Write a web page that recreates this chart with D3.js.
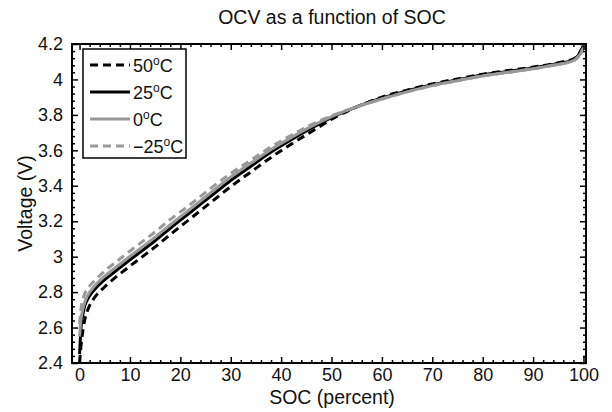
<!DOCTYPE html>
<html>
<head>
<meta charset="utf-8">
<script src="https://cdn.jsdelivr.net/npm/d3@7.9.0/dist/d3.min.js"></script>
<style>
  html, body { margin: 0; padding: 0; background: #fff; }
  text { font-family: "Liberation Sans", Arial, sans-serif; fill: #111; }
</style>
</head>
<body>
<svg id="chart" width="612" height="412"></svg>
<script>
// --- data ---
const soc = [0, 0.3, 0.7, 1, 1.5, 2, 3, 5, 7, 9, 12, 15, 18, 22, 26, 30, 34, 38, 42, 46,
  50, 55, 60, 65, 70, 75, 80, 85, 90, 94, 96, 97.5, 98.5, 99.3, 100];

const v50 = [2.40, 2.50, 2.59, 2.64, 2.69, 2.725, 2.77, 2.83, 2.88, 2.925, 2.99, 3.055, 3.125, 3.215,
  3.305, 3.395, 3.478, 3.56, 3.635, 3.705, 3.775, 3.845, 3.90, 3.94, 3.975, 4.003, 4.03, 4.05,
  4.07, 4.088, 4.10, 4.11, 4.125, 4.155, 4.19];
const v25 = [2.45, 2.60, 2.68, 2.72, 2.755, 2.78, 2.815, 2.87, 2.915, 2.96, 3.025, 3.09, 3.16, 3.25,
  3.34, 3.43, 3.51, 3.59, 3.66, 3.725, 3.785, 3.845, 3.895, 3.935, 3.97, 3.998, 4.025, 4.045,
  4.065, 4.085, 4.095, 4.105, 4.12, 4.15, 4.19];
const v0 = [2.55, 2.65, 2.71, 2.74, 2.775, 2.80, 2.835, 2.89, 2.935, 2.98, 3.045, 3.11, 3.18, 3.27,
  3.36, 3.45, 3.528, 3.605, 3.672, 3.735, 3.79, 3.845, 3.89, 3.93, 3.965, 3.993, 4.02, 4.04,
  4.06, 4.08, 4.09, 4.10, 4.115, 4.14, 4.18];
const vm25 = [2.62, 2.71, 2.76, 2.79, 2.815, 2.835, 2.865, 2.92, 2.965, 3.01, 3.075, 3.14, 3.21, 3.295,
  3.385, 3.47, 3.545, 3.62, 3.685, 3.745, 3.795, 3.845, 3.89, 3.93, 3.965, 3.993, 4.02, 4.04,
  4.06, 4.08, 4.09, 4.10, 4.115, 4.14, 4.18];

const seriesNames = ["50", "25", "0", "\u221225"];
const xTicks = [0, 10, 20, 30, 40, 50, 60, 70, 80, 90, 100];
const yTicks = [2.4, 2.6, 2.8, 3, 3.2, 3.4, 3.6, 3.8, 4, 4.2];

const series = [
  { name: seriesNames[0], values: v50, color: "#000", dash: "8,5" },
  { name: seriesNames[1], values: v25, color: "#000", dash: null },
  { name: seriesNames[2], values: v0, color: "#999", dash: null },
  { name: seriesNames[3], values: vm25, color: "#999", dash: "8,5" },
];

/* ------------------------------
 Layout + scales
------------------------------ */
const area = { left: 72, right: 586, top: 44, bottom: 363 };
const svg = d3.select("#chart");

const x = d3.scaleLinear().domain([-1.5, 100.5]).range([area.left, area.right]);
const y = d3.scaleLinear().domain([2.4, 4.2]).range([area.bottom, area.top]);

// --- curves (drawn first, frame on top) ---
const line = d3.line()
  .x((d) => x(d[0]))
  .y((d) => y(d[1]))
  .curve(d3.curveMonotoneX);

svg.append("clipPath").attr("id", "clip")
  .append("rect")
  .attr("x", area.left).attr("y", area.top)
  .attr("width", area.right - area.left).attr("height", area.bottom - area.top);

svg.append("g").attr("clip-path", "url(#clip)")
  .selectAll("path")
  .data(series)
  .join("path")
  .attr("d", (s) => line(soc.map((v, i) => [v, s.values[i]])))
  .attr("fill", "none")
  .attr("stroke", (s) => s.color)
  .attr("stroke-width", 3)
  .attr("stroke-dasharray", (s) => s.dash);

// --- axes: ticks inside on all four sides ---
const xMinor = d3.range(0, 100.1, 2).filter((v) => v % 10 !== 0);
const yMinor = d3.range(2.4, 4.2001, 0.04).filter((v) => Math.abs(v * 5 - Math.round(v * 5)) > 1e-6);

function tickStyle(g) {
  g.select(".domain").remove();
  g.selectAll("line").attr("stroke", "#000").attr("stroke-width", 1.5);
  g.selectAll("text")
    .style("font-family", '"Liberation Sans", Arial, sans-serif')
    .style("font-size", "18px")
    .attr("fill", "#111");
}

svg.append("g")
  .attr("transform", `translate(0,${area.bottom})`)
  .call(d3.axisBottom(x).tickValues(xTicks).tickSize(-6).tickPadding(5).tickFormat(d3.format("d")))
  .call(tickStyle);
svg.append("g")
  .attr("transform", `translate(0,${area.bottom})`)
  .call(d3.axisBottom(x).tickValues(xMinor).tickSize(-3).tickFormat(""))
  .call(tickStyle);
svg.append("g")
  .attr("transform", `translate(0,${area.top})`)
  .call(d3.axisTop(x).tickValues(xTicks).tickSize(-6).tickFormat(""))
  .call(tickStyle);
svg.append("g")
  .attr("transform", `translate(0,${area.top})`)
  .call(d3.axisTop(x).tickValues(xMinor).tickSize(-3).tickFormat(""))
  .call(tickStyle);

svg.append("g")
  .attr("transform", `translate(${area.left},0)`)
  .call(d3.axisLeft(y).tickValues(yTicks).tickSize(-6).tickPadding(9).tickFormat(d3.format("~g")))
  .call(tickStyle);
svg.append("g")
  .attr("transform", `translate(${area.left},0)`)
  .call(d3.axisLeft(y).tickValues(yMinor).tickSize(-3).tickFormat(""))
  .call(tickStyle);
svg.append("g")
  .attr("transform", `translate(${area.right},0)`)
  .call(d3.axisRight(y).tickValues(yTicks).tickSize(-6).tickFormat(""))
  .call(tickStyle);
svg.append("g")
  .attr("transform", `translate(${area.right},0)`)
  .call(d3.axisRight(y).tickValues(yMinor).tickSize(-3).tickFormat(""))
  .call(tickStyle);

// frame
svg.append("rect")
  .attr("x", area.left).attr("y", area.top)
  .attr("width", area.right - area.left).attr("height", area.bottom - area.top)
  .attr("fill", "none").attr("stroke", "#000").attr("stroke-width", 2);

// --- titles ---
svg.append("text")
  .attr("x", (area.left + area.right) / 2 + 3).attr("y", 24)
  .attr("text-anchor", "middle")
  .style("font-size", "19.5px")
  .text("OCV as a function of SOC");

svg.append("text")
  .attr("x", (area.left + area.right) / 2 + 3).attr("y", 404)
  .attr("text-anchor", "middle")
  .style("font-size", "19.5px")
  .text("SOC (percent)");

svg.append("text")
  .attr("transform", `translate(32,${(area.top + area.bottom) / 2}) rotate(-90)`)
  .attr("text-anchor", "middle")
  .style("font-size", "19.5px")
  .text("Voltage (V)");

// --- legend ---
const legend = svg.append("g");
legend.append("rect")
  .attr("x", 83).attr("y", 49).attr("width", 103).attr("height", 109)
  .attr("fill", "#fff").attr("stroke", "#000").attr("stroke-width", 1.5);

const rows = legend.selectAll("g.row")
  .data(series)
  .join("g")
  .attr("class", "row")
  .attr("transform", (d, i) => `translate(0,${65 + i * 27})`);

rows.append("line")
  .attr("x1", 90).attr("x2", 130)
  .attr("stroke", (d) => d.color)
  .attr("stroke-width", 3)
  .attr("stroke-dasharray", (d) => d.dash);

const lt = rows.append("text")
  .attr("x", 133).attr("y", 7)
  .style("font-size", "18px");
lt.append("tspan").text((d) => d.name);
lt.append("tspan").attr("dy", -7).style("font-size", "12px").text("o");
lt.append("tspan").attr("dy", 7).text("C");
</script>
</body>
</html>
